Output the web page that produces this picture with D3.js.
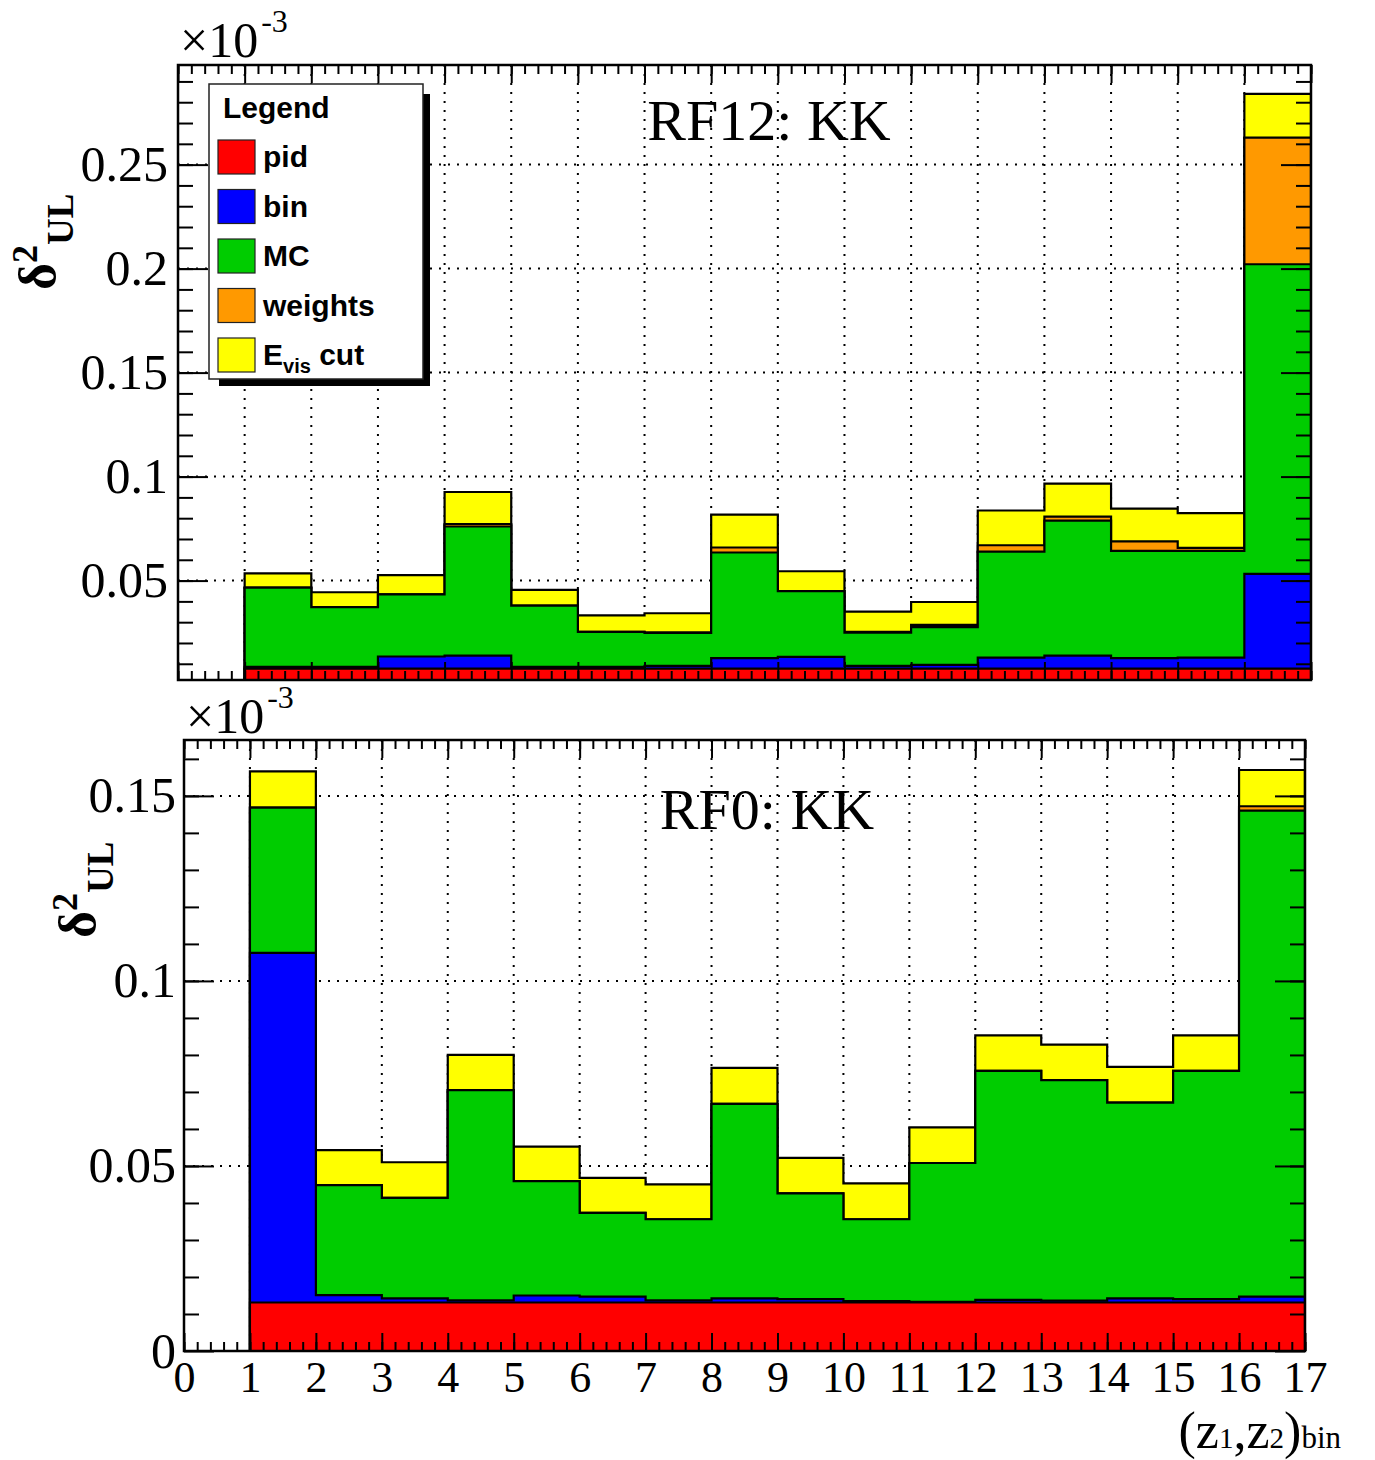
<!DOCTYPE html>
<html>
<head>
<meta charset="utf-8">
<script src="https://cdn.jsdelivr.net/npm/d3@7"></script>
<style>
  body { margin: 0; background: #fff; }
  svg { display: block; }
</style>
</head>
<body>
<svg id="chart" width="1375" height="1460"></svg>
<script>
// ---- data (units of 10^-3) -------------------------------------------------
// bins 1..16 on the (z1,z2) axis; each entry is the contribution of one source
const binIndex = d3.range(1, 17);
const layerNames = ["pid", "bin", "MC", "weights", "Evis"];
const layerColors = ["#ff0000", "#0000ff", "#00cc00", "#ff9900", "#ffff00"];

// RF12: KK
const rf12Pid     = [0.0077, 0.0077, 0.0077, 0.0077, 0.0077, 0.0077, 0.0077, 0.0077, 0.0077, 0.0077, 0.0077, 0.0077, 0.0077, 0.0077, 0.0077, 0.0077];
const rf12Bin     = [0.0008, 0.0008, 0.0058, 0.0062, 0.0008, 0.0008, 0.0013, 0.0050, 0.0056, 0.0013, 0.0018, 0.0053, 0.0062, 0.0050, 0.0053, 0.0455];
const rf12MC      = [0.0381, 0.0287, 0.0299, 0.0621, 0.0295, 0.0168, 0.0158, 0.0508, 0.0316, 0.0160, 0.0181, 0.0509, 0.0649, 0.0516, 0.0513, 0.1489];
const rf12Weights = [0.0000, 0.0000, 0.0000, 0.0012, 0.0000, 0.0000, 0.0003, 0.0024, 0.0000, 0.0003, 0.0011, 0.0031, 0.0020, 0.0046, 0.0014, 0.0609];
const rf12Evis    = [0.0069, 0.0072, 0.0092, 0.0154, 0.0075, 0.0080, 0.0092, 0.0158, 0.0096, 0.0098, 0.0110, 0.0167, 0.0158, 0.0157, 0.0167, 0.0210];

// RF0: KK
const rf0Pid     = [0.0131, 0.0131, 0.0131, 0.0131, 0.0131, 0.0131, 0.0131, 0.0131, 0.0131, 0.0131, 0.0131, 0.0131, 0.0131, 0.0131, 0.0131, 0.0131];
const rf0Bin     = [0.0945, 0.0020, 0.0011, 0.0006, 0.0019, 0.0016, 0.0006, 0.0011, 0.0009, 0.0004, 0.0002, 0.0007, 0.0005, 0.0011, 0.0009, 0.0016];
const rf0MC      = [0.0392, 0.0297, 0.0272, 0.0568, 0.0309, 0.0226, 0.0219, 0.0526, 0.0286, 0.0221, 0.0375, 0.0619, 0.0596, 0.0529, 0.0617, 0.1313];
const rf0Weights = [0.0000, 0.0000, 0.0000, 0.0000, 0.0000, 0.0000, 0.0000, 0.0000, 0.0000, 0.0000, 0.0000, 0.0000, 0.0000, 0.0000, 0.0000, 0.0012];
const rf0Evis    = [0.0098, 0.0095, 0.0096, 0.0095, 0.0093, 0.0095, 0.0094, 0.0097, 0.0096, 0.0097, 0.0096, 0.0096, 0.0096, 0.0097, 0.0096, 0.0098];

// axis ticks and labels
const xTickValues = d3.range(0, 18);
const xTickLabels = xTickValues.map(String);
const rf12YTicks = [0.05, 0.1, 0.15, 0.2, 0.25];
const rf12YLabels = ["0.05", "0.1", "0.15", "0.2", "0.25"];
const rf0YTicks = [0, 0.05, 0.1, 0.15];
const rf0YLabels = ["0", "0.05", "0.1", "0.15"];

// ---- drawing ---------------------------------------------------------------
const SERIF = "'Liberation Serif','Times New Roman',Times,serif";
const SANS = "'Liberation Sans',Arial,Helvetica,sans-serif";
const svg = d3.select("#chart");

function tickAxis(g, gen, values, size) {
  g.call(gen.tickValues(values).tickSizeInner(size).tickSizeOuter(0).tickFormat(""));
  g.select(".domain").remove();
  g.selectAll("line").attr("stroke", "#000").attr("stroke-width", 2);
}

function drawPanel(cfg) {
  const g = svg.append("g");
  const x = d3.scaleLinear().domain([0, 17]).range([cfg.left, cfg.right]);
  const y = d3.scaleLinear().domain(cfg.yDomain).range([cfg.bottom, cfg.top]);
  const [ymin, ymax] = cfg.yDomain;

  const clipId = "clip-" + cfg.id;
  svg.append("clipPath").attr("id", clipId).append("rect")
    .attr("x", cfg.left).attr("y", cfg.top)
    .attr("width", cfg.right - cfg.left).attr("height", cfg.bottom - cfg.top);

  // dotted grid
  const grid = g.append("g").attr("stroke", "#000").attr("stroke-width", 2)
    .attr("stroke-dasharray", "2,7");
  grid.selectAll("line.gx").data(d3.range(1, 17)).join("line")
    .attr("x1", d => x(d)).attr("x2", d => x(d))
    .attr("y1", cfg.top).attr("y2", cfg.bottom);
  grid.selectAll("line.gy").data(cfg.yTicks.filter(v => v > ymin && v < ymax)).join("line")
    .attr("x1", cfg.left).attr("x2", cfg.right)
    .attr("y1", d => y(d)).attr("y2", d => y(d));

  // panel title (drawn over the grid)
  g.append("text").attr("x", cfg.titleX).attr("y", cfg.titleY)
    .attr("text-anchor", "middle").attr("font-family", SERIF)
    .attr("font-size", 58).text(cfg.title);

  // stacked histograms: cumulative sums, drawn from the total down
  const cum = [];
  let running = binIndex.map(() => 0);
  cfg.series.forEach(s => {
    running = running.map((v, i) => v + s[i]);
    cum.push(running.slice());
  });
  const line = d3.line().x(d => x(d[0])).y(d => y(d[1]));
  const hist = g.append("g").attr("clip-path", `url(#${clipId})`);
  for (let k = cum.length - 1; k >= 0; k--) {
    const pts = [[binIndex[0], 0]];
    binIndex.forEach((b, i) => { pts.push([b, cum[k][i]]); pts.push([b + 1, cum[k][i]]); });
    pts.push([binIndex[binIndex.length - 1] + 1, 0]);
    hist.append("path").attr("d", line(pts) + "Z")
      .attr("fill", layerColors[k]).attr("stroke", "#000")
      .attr("stroke-width", 2.2).attr("stroke-linejoin", "miter");
  }

  // ticks on all four sides, pointing inwards
  const yMajor = cfg.yTicks.filter(v => v >= ymin && v <= ymax);
  const yMinor = d3.range(0, 40).map(i => +(i * 0.01).toFixed(2)).filter(v => v > ymin && v < ymax);
  const xMinor = d3.range(0, 86).map(i => +(i * 0.2).toFixed(1));
  tickAxis(g.append("g").attr("transform", `translate(${cfg.left},0)`), d3.axisLeft(y), yMinor, -15);
  tickAxis(g.append("g").attr("transform", `translate(${cfg.left},0)`), d3.axisLeft(y), yMajor, -30);
  tickAxis(g.append("g").attr("transform", `translate(${cfg.right},0)`), d3.axisRight(y), yMinor, -15);
  tickAxis(g.append("g").attr("transform", `translate(${cfg.right},0)`), d3.axisRight(y), yMajor, -30);
  tickAxis(g.append("g").attr("transform", `translate(0,${cfg.bottom})`), d3.axisBottom(x), xMinor, -9);
  tickAxis(g.append("g").attr("transform", `translate(0,${cfg.bottom})`), d3.axisBottom(x), xTickValues, -18);
  tickAxis(g.append("g").attr("transform", `translate(0,${cfg.top})`), d3.axisTop(x), xMinor, -9);
  tickAxis(g.append("g").attr("transform", `translate(0,${cfg.top})`), d3.axisTop(x), xTickValues, -18);

  // frame
  g.append("rect").attr("x", cfg.left).attr("y", cfg.top)
    .attr("width", cfg.right - cfg.left).attr("height", cfg.bottom - cfg.top)
    .attr("fill", "none").attr("stroke", "#000").attr("stroke-width", 2.5);

  // y tick labels
  const yl = g.append("g").attr("transform", `translate(${cfg.left},0)`)
    .call(d3.axisLeft(y).tickValues(yMajor).tickSize(0).tickPadding(cfg.yLabelPad)
      .tickFormat(v => cfg.yLabels[cfg.yTicks.indexOf(v)]));
  yl.select(".domain").remove();
  yl.selectAll("text").attr("font-family", SERIF).attr("font-size", 50).attr("fill", "#000");

  // x tick labels
  if (cfg.xLabels) {
    const xl = g.append("g").attr("transform", `translate(0,${cfg.bottom})`)
      .call(d3.axisBottom(x).tickValues(xTickValues).tickSize(0).tickPadding(10)
        .tickFormat((v, i) => xTickLabels[i]));
    xl.select(".domain").remove();
    xl.selectAll("text").attr("font-family", SERIF).attr("font-size", 44).attr("fill", "#000");
  }

  // exponent marker
  const ex = g.append("text").attr("x", cfg.left + 2).attr("y", cfg.expY)
    .attr("font-family", SERIF).attr("font-size", 50);
  ex.append("tspan").text("\u00d710");
  ex.append("tspan").attr("font-size", 32).attr("dy", -25).attr("dx", 3).text("-3");

  // y axis title
  const yt = g.append("text")
    .attr("transform", `translate(${cfg.yTitleX},${cfg.yTitleY}) rotate(-90)`)
    .attr("font-family", SERIF).attr("font-weight", "bold");
  yt.append("tspan").attr("font-size", 52).text("\u03b4");
  yt.append("tspan").attr("font-size", 36).attr("dy", -18).text("2");
  yt.append("tspan").attr("font-size", 37).attr("dy", 36).text("UL");

  return { g, x, y };
}

drawPanel({
  id: "rf12", left: 178, right: 1311, top: 65, bottom: 680,
  yDomain: [0.0022, 0.2979], yTicks: rf12YTicks, yLabels: rf12YLabels, yLabelPad: 10,
  series: [rf12Pid, rf12Bin, rf12MC, rf12Weights, rf12Evis],
  title: "RF12: KK", titleX: 769, titleY: 140,
  xLabels: false, expY: 57, yTitleX: 55, yTitleY: 290
});

drawPanel({
  id: "rf0", left: 184, right: 1305, top: 740, bottom: 1351,
  yDomain: [0, 0.1651], yTicks: rf0YTicks, yLabels: rf0YLabels, yLabelPad: 8,
  series: [rf0Pid, rf0Bin, rf0MC, rf0Weights, rf0Evis],
  title: "RF0: KK", titleX: 767, titleY: 829,
  xLabels: true, expY: 733, yTitleX: 95, yTitleY: 938
});

// x axis title
const xt = svg.append("text").attr("x", 1341).attr("y", 1448)
  .attr("text-anchor", "end").attr("font-family", SERIF);
xt.append("tspan").attr("font-size", 52).text("(");
xt.append("tspan").attr("font-size", 52).text("z");
xt.append("tspan").attr("font-size", 29).text("1");
xt.append("tspan").attr("font-size", 52).text(",z");
xt.append("tspan").attr("font-size", 29).text("2");
xt.append("tspan").attr("font-size", 52).text(")");
xt.append("tspan").attr("font-size", 31).text("bin");

// legend
const lg = svg.append("g");
lg.append("rect").attr("x", 219).attr("y", 94).attr("width", 211).attr("height", 292).attr("fill", "#000");
lg.append("rect").attr("x", 209).attr("y", 84).attr("width", 214).attr("height", 295)
  .attr("fill", "#fff").attr("stroke", "#222").attr("stroke-width", 1.5);
lg.append("text").attr("x", 223).attr("y", 118).attr("font-family", SANS)
  .attr("font-weight", "bold").attr("font-size", 30).text("Legend");
const entryY = d3.scaleLinear().domain([0, 4]).range([157, 355]);
layerNames.forEach((name, i) => {
  const cy = entryY(i);
  lg.append("rect").attr("x", 218).attr("y", cy - 17).attr("width", 37).attr("height", 34)
    .attr("fill", layerColors[i]).attr("stroke", "#222").attr("stroke-width", 1.2);
  const t = lg.append("text").attr("x", 263).attr("y", cy + 10).attr("font-family", SANS)
    .attr("font-weight", "bold").attr("font-size", 30);
  if (name === "Evis") {
    t.append("tspan").text("E");
    t.append("tspan").attr("font-size", 20).attr("dy", 8).text("vis");
    t.append("tspan").attr("dy", -8).text(" cut");
  } else {
    t.text(name);
  }
});
</script>
</body>
</html>
